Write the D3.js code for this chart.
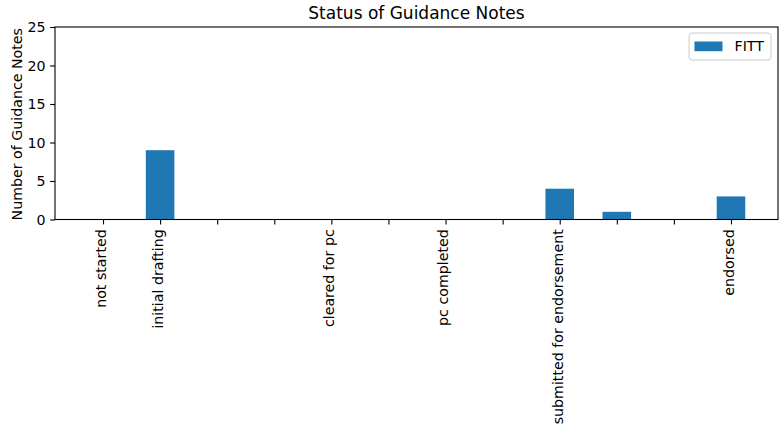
<!DOCTYPE html>
<html>
<head>
<meta charset="utf-8">
<script src="https://cdn.jsdelivr.net/npm/d3@7"></script>
<style>
  html, body { margin: 0; padding: 0; background: #fff; }
  text { font-family: "DejaVu Sans", sans-serif; fill: #000; }
</style>
</head>
<body>
<svg id="chart" width="780" height="427"></svg>
<script>
const categories = ["not started", "initial drafting", "", "", "cleared for pc", "", "pc completed", "", "submitted for endorsement", "", "", "endorsed"];
const fittValues = [0, 9, 0, 0, 0, 0, 0, 0, 4, 1, 0, 3];
const yTicks = [0, 5, 10, 15, 20, 25];
const seriesName = "FITT";
const chartTitle = "Status of Guidance Notes";
const yLabel = "Number of Guidance Notes";

(function () {
const svg = d3.select("#chart");
const mLeft = 55, mRight = 778, mTop = 27, mBottom = 219.5;
const fs = 14.2;

// x: index scale; ticks at 103 (index 0) and 731 (index 11)
const step = (731 - 103) / 11;
const x = d3.scaleLinear()
  .domain([(mLeft - 103) / step, 11 + (mRight - 731) / step])
  .range([mLeft, mRight]);
const y = d3.scaleLinear().domain([0, 25]).range([mBottom, mTop]);

const barW = x(0.5) - x(0);

// bars
svg.append("g").selectAll("rect")
  .data(fittValues.map((v, i) => ({ v, i })).filter(d => d.v > 0))
  .join("rect")
  .attr("x", d => x(d.i) - barW / 2)
  .attr("width", barW)
  .attr("y", d => y(d.v))
  .attr("height", d => y(0) - y(d.v))
  .attr("fill", "#1f77b4");

// y axis
const yAxis = d3.axisLeft(y).tickValues(yTicks).tickSize(4.9).tickPadding(4.5);
const gy = svg.append("g").attr("transform", `translate(${mLeft},0)`).call(yAxis);
gy.select(".domain").remove();
gy.selectAll("line").attr("stroke", "#000").attr("stroke-width", 1.1);
gy.selectAll("text").style("font-family", "DejaVu Sans").style("font-size", fs + "px").attr("fill", "#000");

// x axis
const xAxis = d3.axisBottom(x).tickValues(d3.range(categories.length))
  .tickFormat(i => categories[i]).tickSize(4.9);
const gx = svg.append("g").attr("transform", `translate(0,${mBottom})`).call(xAxis);
gx.select(".domain").remove();
gx.selectAll("line").attr("stroke", "#000").attr("stroke-width", 1.1);
gx.selectAll("text")
  .style("font-family", "DejaVu Sans").style("font-size", fs + "px").attr("fill", "#000")
  .attr("transform", "rotate(-90)")
  .attr("text-anchor", "end")
  .attr("x", -9.8)
  .attr("y", 0)
  .attr("dy", "0.17em");

// frame
svg.append("rect")
  .attr("x", mLeft).attr("y", mTop)
  .attr("width", mRight - mLeft).attr("height", mBottom - mTop)
  .attr("fill", "none").attr("stroke", "#000").attr("stroke-width", 1.1);

// title
svg.append("text")
  .attr("x", (mLeft + mRight) / 2).attr("y", 18.5)
  .attr("text-anchor", "middle")
  .style("font-size", "17px")
  .text(chartTitle);

// y label
svg.append("text")
  .attr("transform", `translate(22,${(mTop + mBottom) / 2 + 1}) rotate(-90)`)
  .attr("text-anchor", "middle")
  .style("font-size", fs + "px")
  .text(yLabel);

// legend
const lg = svg.append("g");
lg.append("rect")
  .attr("x", 689).attr("y", 33).attr("width", 82).attr("height", 27)
  .attr("rx", 3).attr("fill", "#fff").attr("fill-opacity", 0.8)
  .attr("stroke", "#ccc").attr("stroke-width", 1);
lg.append("rect")
  .attr("x", 694.5).attr("y", 41.5).attr("width", 28).attr("height", 9.7)
  .attr("fill", "#1f77b4");
lg.append("text")
  .attr("x", 734.5).attr("y", 46.5).attr("dy", "0.35em")
  .style("font-size", fs + "px")
  .text(seriesName);
})();
</script>
</body>
</html>
